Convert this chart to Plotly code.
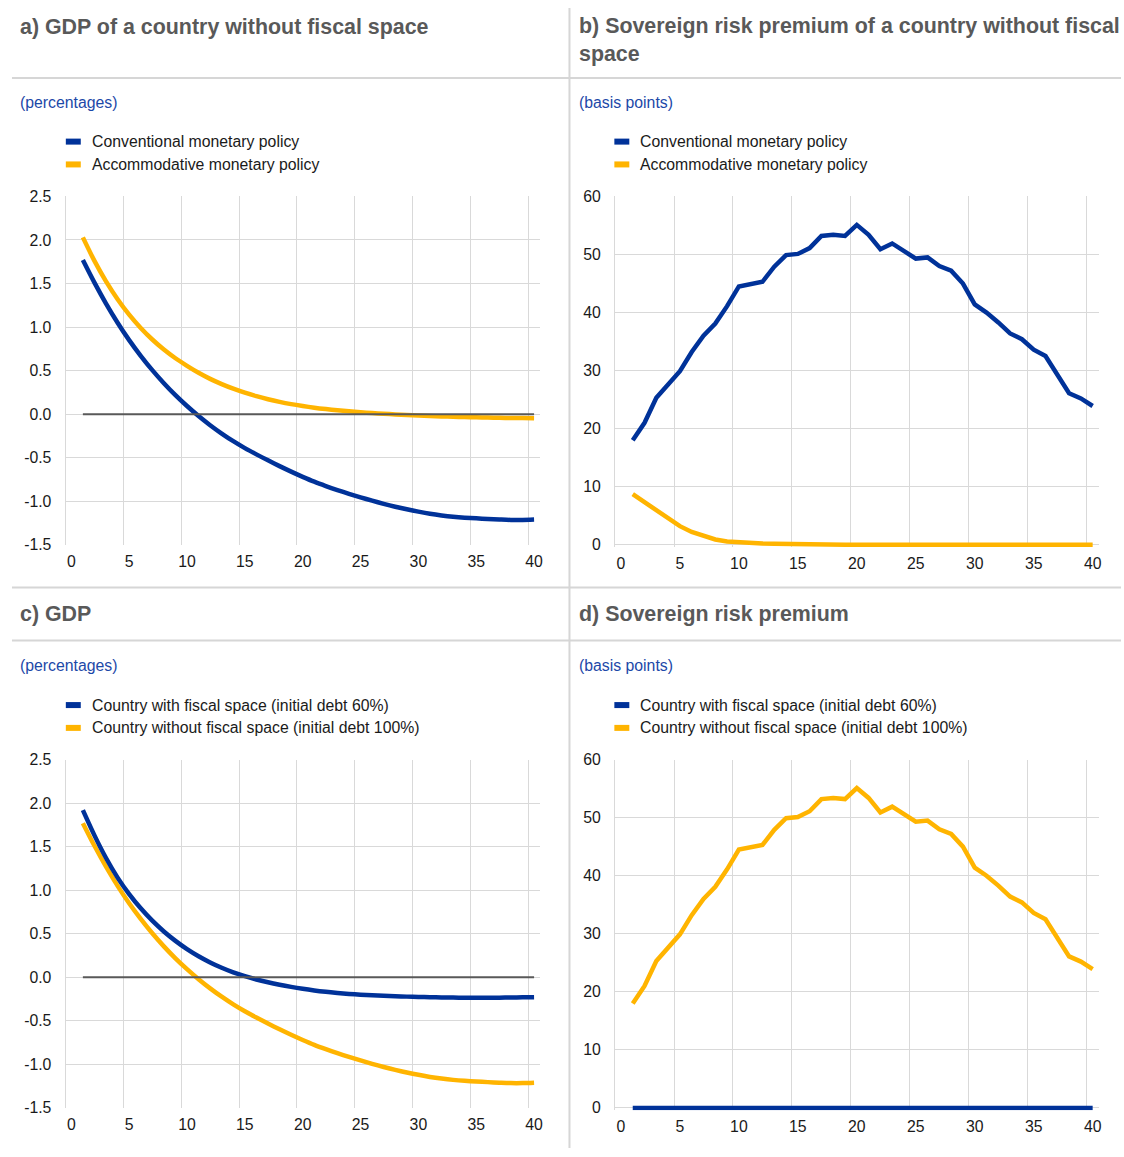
import plotly.graph_objects as go

W, H = 1124, 1157

# quarters after the shock
periods = list(range(1, 41))

# a) GDP of a country without fiscal space (percentages)
gdp_conventional = [1.77, 1.51, 1.27, 1.05, 0.85, 0.67, 0.505, 0.355, 0.218, 0.093,
                    -0.022, -0.127, -0.223, -0.311, -0.390, -0.462, -0.531, -0.597, -0.660, -0.720,
                    -0.776, -0.826, -0.872, -0.915, -0.955, -0.994, -1.030, -1.063, -1.093, -1.120,
                    -1.144, -1.163, -1.178, -1.189, -1.197, -1.204, -1.210, -1.215, -1.215, -1.211]
gdp_accommodative = [2.03, 1.76, 1.525, 1.32, 1.143, 0.99, 0.857, 0.742, 0.642, 0.555,
                     0.475, 0.405, 0.345, 0.292, 0.246, 0.206, 0.171, 0.141, 0.115, 0.093,
                     0.074, 0.058, 0.044, 0.032, 0.021, 0.012, 0.004, -0.003, -0.01, -0.016,
                     -0.021, -0.026, -0.03, -0.034, -0.037, -0.04, -0.042, -0.044, -0.045, -0.046]

# b) sovereign risk premium of a country without fiscal space (basis points)
risk_conventional = [18.0, 21.0, 25.3, 27.5, 29.9, 33.2, 36.0, 38.1, 41.1, 44.5,
                     44.9, 45.3, 47.9, 49.9, 50.1, 51.1, 53.2, 53.4, 53.2, 55.1,
                     53.4, 50.9, 51.9, 50.6, 49.3, 49.5, 48.0, 47.2, 45.0, 41.4,
                     40.0, 38.3, 36.4, 35.4, 33.6, 32.5, 29.4, 26.1, 25.2, 23.9]
risk_accommodative = [8.7, 7.3, 5.9, 4.5, 3.2, 2.2, 1.5, 0.9, 0.57, 0.4,
                      0.3, 0.2, 0.15, 0.1, 0.06, 0.04, 0.03, 0.02, 0.01, 0.01,
                      0.0, 0.0, 0.0, 0.0, 0.0, 0.0, 0.0, 0.0, 0.0, 0.0,
                      0.0, 0.0, 0.0, 0.0, 0.0, 0.0, 0.0, 0.0, 0.0, 0.0]

# c) GDP, d) sovereign risk premium: with vs without fiscal space
gdp_fiscal_space = [1.92, 1.63, 1.37, 1.145, 0.955, 0.792, 0.65, 0.526, 0.418, 0.324,
                    0.242, 0.171, 0.11, 0.057, 0.013, -0.025, -0.057, -0.085, -0.11, -0.132,
                    -0.151, -0.167, -0.18, -0.191, -0.2, -0.207, -0.213, -0.218, -0.222, -0.226,
                    -0.229, -0.231, -0.233, -0.234, -0.235, -0.235, -0.234, -0.232, -0.23, -0.228]
gdp_no_fiscal_space = gdp_conventional
risk_fiscal_space = [0.0, 0.0, 0.0, 0.0, 0.0, 0.0, 0.0, 0.0, 0.0, 0.0,
                     0.0, 0.0, 0.0, 0.0, 0.0, 0.0, 0.0, 0.0, 0.0, 0.0,
                     0.0, 0.0, 0.0, 0.0, 0.0, 0.0, 0.0, 0.0, 0.0, 0.0,
                     0.0, 0.0, 0.0, 0.0, 0.0, 0.0, 0.0, 0.0, 0.0, 0.0]
risk_no_fiscal_space = risk_conventional
baseline = risk_fiscal_space

policy_names = ["Conventional monetary policy", "Accommodative monetary policy"]
space_names = ["Country with fiscal space (initial debt 60%)",
               "Country without fiscal space (initial debt 100%)"]

gdp_ticks = [-1.5, -1.0, -0.5, 0.0, 0.5, 1.0, 1.5, 2.0, 2.5]
risk_ticks = [0, 10, 20, 30, 40, 50, 60]
x_ticks = [0, 5, 10, 15, 20, 25, 30, 35, 40]

BLUE = "#003299"
YELLOW = "#ffb400"
GRID = "#d9d9d9"
TEXT = "#1a1a1a"
TITLE = "#595959"
UNIT = "#1c48a8"
FONT = "Arial, Liberation Sans, sans-serif"
SIZE = 15.8

# the photographed page came out a little squeezed vertically; positions below are
# measured on the reference, so map them back before placing
SY, OY = 0.9845, 9.0


def fx(px):
    return px / W


def fy(py):
    return 1 - ((py - OY) / SY) / H


# (title, unit, names, [(values, colour)], baseline?, x px, y px, y range, y ticks, offset px, title y px)
panels = [
    ("a) GDP of a country without fiscal space", "(percentages)", policy_names,
     [(gdp_conventional, BLUE), (gdp_accommodative, YELLOW)], True,
     (65.7, 541.3), (197.3, 545.3), (-1.5, 2.5), gdp_ticks, 0, 28),
    ("b) Sovereign risk premium of a country without fiscal<br>space", "(basis points)", policy_names,
     [(risk_accommodative, YELLOW), (risk_conventional, BLUE)], False,
     (616.7, 1101.5), (197.3, 547.6), (-0.4, 60), risk_ticks, 0, 40.5),
    ("c) GDP", "(percentages)", space_names,
     [(gdp_no_fiscal_space, YELLOW), (gdp_fiscal_space, BLUE)], True,
     (65.7, 541.3), (760.0, 1108.0), (-1.5, 2.5), gdp_ticks, 563, 615),
    ("d) Sovereign risk premium", "(basis points)", space_names,
     [(risk_no_fiscal_space, YELLOW), (risk_fiscal_space, BLUE)], False,
     (616.7, 1101.5), (760.0, 1110.3), (-0.4, 60), risk_ticks, 563, 615),
]

fig = go.Figure()
annotations = []
shapes = []
layout_axes = {}

for i, (title, unit, names, series, zero, xpx, ypx, yrange, yticks, off, ty) in enumerate(panels, start=1):
    xa = f"x{i}" if i > 1 else "x"
    ya = f"y{i}" if i > 1 else "y"
    is_gdp = yrange[0] < -1
    for values, colour in series:
        fig.add_trace(go.Scatter(x=periods, y=values, mode="lines", xaxis=xa, yaxis=ya,
                                 line=dict(color=colour, width=4.5,
                                           shape="spline" if is_gdp else "linear", smoothing=0.8),
                                 showlegend=False))
    if zero:
        fig.add_trace(go.Scatter(x=periods, y=baseline, mode="lines", xaxis=xa, yaxis=ya,
                                 line=dict(color="#595959", width=2), showlegend=False))

    layout_axes[f"xaxis{i}" if i > 1 else "xaxis"] = dict(
        domain=[fx(xpx[0]), fx(xpx[1])], anchor=ya, range=[-0.5, 40.5],
        tickmode="array", tickvals=x_ticks, ticktext=[str(v) for v in x_ticks],
        showgrid=False, zeroline=False, showline=False, ticks="",
        ticklabelstandoff=5,
        minor=dict(tickmode="linear", tick0=-0.5, dtick=5, showgrid=True,
                   gridcolor=GRID, gridwidth=1, ticks=""),
        tickfont=dict(family=FONT, size=SIZE, color=TEXT), fixedrange=True)
    layout_axes[f"yaxis{i}" if i > 1 else "yaxis"] = dict(
        domain=[fy(ypx[1]), fy(ypx[0])], anchor=xa, range=list(yrange),
        tickmode="array", tickvals=yticks,
        ticktext=[f"{v:.1f}" for v in yticks] if is_gdp else [str(v) for v in yticks],
        showgrid=True, gridcolor=GRID, gridwidth=1, zeroline=False,
        showline=True, linecolor=GRID, linewidth=1, ticks="", ticklabelstandoff=10,
        tickfont=dict(family=FONT, size=SIZE, color=TEXT), fixedrange=True)

    left = 20 if xpx[0] < 300 else 581
    annotations.append(dict(text=f"<b>{title}</b>", x=fx(left - 2), y=fy(ty), xref="paper", yref="paper",
                            xanchor="left", yanchor="middle", align="left", showarrow=False,
                            font=dict(family=FONT, size=21.4, color=TITLE)))
    annotations.append(dict(text=unit, x=fx(left - 2), y=fy(103 + off), xref="paper", yref="paper",
                            xanchor="left", yanchor="middle", showarrow=False,
                            font=dict(family=FONT, size=SIZE, color=UNIT)))
    sw = 66 if xpx[0] < 300 else 616
    for row, (name, colour) in enumerate(zip(names, [BLUE, YELLOW])):
        cy = 142.5 + off + row * 22.8
        shapes.append(dict(type="rect", xref="paper", yref="paper",
                           x0=fx(sw), x1=fx(sw + 15), y0=fy(cy + 3), y1=fy(cy - 3),
                           fillcolor=colour, line=dict(width=0)))
        annotations.append(dict(text=name, x=fx(sw + 24), y=fy(cy), xref="paper", yref="paper",
                                xanchor="left", yanchor="middle", showarrow=False,
                                font=dict(family=FONT, size=SIZE, color=TEXT)))

# panel separators
for py in (79, 588, 641):
    shapes.append(dict(type="line", xref="paper", yref="paper", x0=fx(12), x1=1,
                       y0=fy(py), y1=fy(py), line=dict(color="#d6d6d6", width=2)))
shapes.append(dict(type="line", xref="paper", yref="paper", x0=fx(571), x1=fx(571),
                   y0=0, y1=1, line=dict(color="#d6d6d6", width=2)))

fig.update_layout(
    width=W, height=H, margin=dict(l=0, r=0, t=0, b=0),
    paper_bgcolor="white", plot_bgcolor="white", showlegend=False,
    annotations=annotations, shapes=shapes, **layout_axes)

# page body margin would push the 1124x1157 figure past the window
fig.write_html("out.html", config={"displayModeBar": False},
               post_script="document.body.style.margin='0px'; document.body.style.overflow='hidden';")
